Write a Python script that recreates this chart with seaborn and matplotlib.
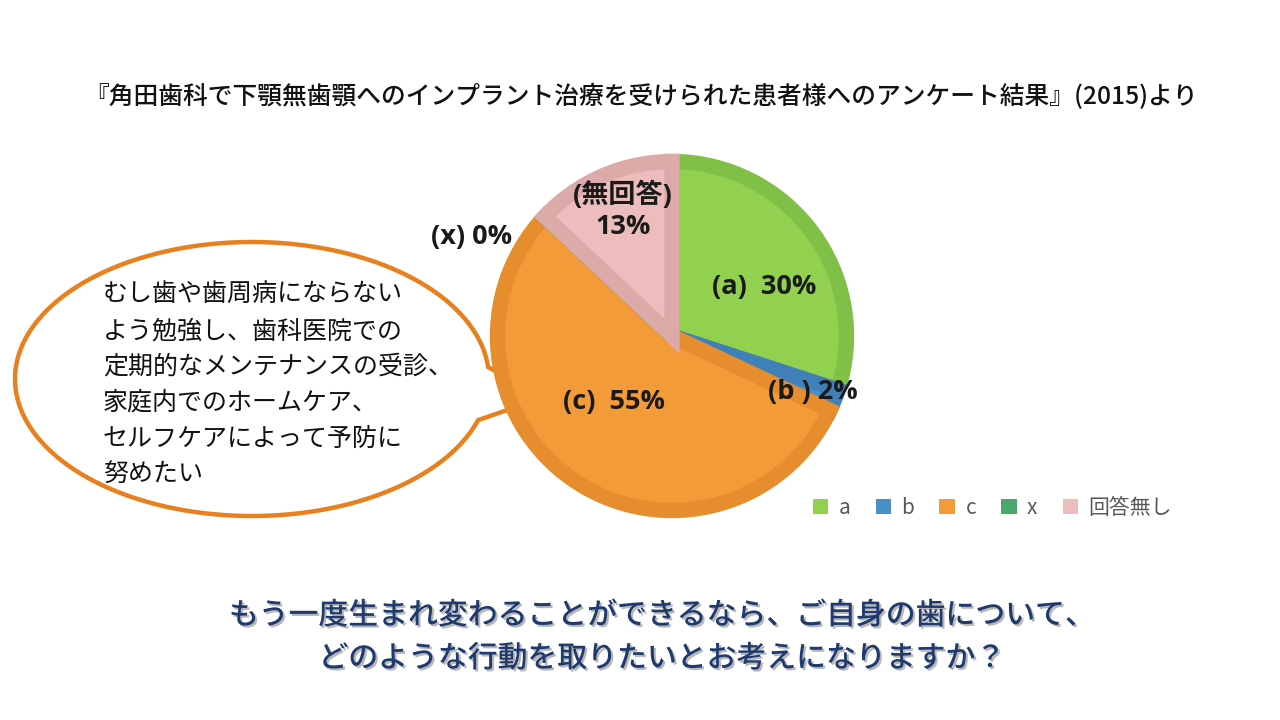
import numpy as np
import matplotlib
matplotlib.use("Agg")
import matplotlib.pyplot as plt
import matplotlib.patheffects as pe
from matplotlib.patches import Polygon, Patch
import seaborn as sns

sns.set_theme(style="white")
plt.rcParams['font.family'] = ['Noto Sans CJK JP', 'DejaVu Sans']

# データ
categories = ['a', 'b', 'c', 'x', '回答無し']
shares = [30, 2, 55, 0, 13]
slice_labels = ['(a)  30%', '(b ) 2%', '(c)  55%', '(x) 0%', '(無回答)\n13%']
fill_colors = ['#92d050', '#4a90c8', '#f29b38', '#4aa86a', '#ecbdbc']
edge_colors = ['#80c046', '#3f80b8', '#e68d2e', '#3e955b', '#dcaaa9']

title = '『角田歯科で下顎無歯顎へのインプラント治療を受けられた患者様へのアンケート結果』(2015)より'
bubble_lines = ['むし歯や歯周病にならない',
                'よう勉強し、歯科医院での',
                '定期的なメンテナンスの受診、',
                '家庭内でのホームケア、',
                'セルフケアによって予防に',
                '努めたい']
question = 'もう一度生まれ変わることができるなら、ご自身の歯について、\nどのような行動を取りたいとお考えになりますか？'

W, H = 1280, 720
fig = plt.figure(figsize=(12.8, 7.2), dpi=100)
bg = fig.add_axes([0, 0, 1, 1])
bg.set_xlim(0, W)
bg.set_ylim(H, 0)
bg.axis('off')

bg.text(641, 97, title, ha='center', va='center', fontsize=17.8,
        fontweight='medium', color='#111111')

# 吹き出し
cx, cy, ra, rb = 252, 379, 237, 137
t = np.linspace(0.305, 2 * np.pi - 0.088, 200)
pts = np.column_stack([cx + ra * np.cos(t), cy + rb * np.sin(t)])
pts = np.vstack([pts, [[542, 398]]])
bg.add_patch(Polygon(pts, closed=True, facecolor='white',
                     edgecolor='#e8801e', linewidth=3.2, zorder=3))
for i, line in enumerate(bubble_lines):
    bg.text(103, 295 + i * 36, line, ha='left', va='center', fontsize=18,
            color='#111111', zorder=4)

# 円グラフ
pcx, pcy, pr = 672, 336, 178
pie_ax = fig.add_axes([(pcx - pr) / W, (H - pcy - pr) / H, 2 * pr / W, 2 * pr / H])
wedges, _ = pie_ax.pie(shares, colors=fill_colors, startangle=90,
                       counterclock=False, radius=1.0,
                       wedgeprops=dict(linewidth=11))
for w, ec in zip(wedges, edge_colors):
    w.set_edgecolor(ec)
    w.set_clip_path(w)
pie_ax.set_xlim(-1.02, 1.02)
pie_ax.set_ylim(-1.02, 1.02)
pie_ax.set_aspect('equal')

label_pos = [(0.53, 0.28), (0.81, -0.32), (-0.33, -0.38), (-1.15, 0.57), (-0.28, 0.72)]
for (lx, ly), lab in zip(label_pos, slice_labels):
    pie_ax.text(lx, ly, lab, ha='center', va='center', fontsize=19.5,
                fontweight='bold', color='#1a1a1a', linespacing=1.25, clip_on=False,
                family=['Open Sans', 'Noto Sans CJK JP'])

handles = [Patch(facecolor=c, edgecolor='none') for c in fill_colors]
fig.legend(handles, categories, ncol=5, frameon=False,
           loc='center left', bbox_to_anchor=(794 / W, 1 - 508 / H),
           fontsize=15, handlelength=0.75, handleheight=0.75,
           handletextpad=0.5, columnspacing=1.2, labelcolor='#595959')

bg.text(662, 637, question, ha='center', va='center', fontsize=21.5,
        fontweight='medium', color='#1f3a6e', linespacing=1.5,
        path_effects=[pe.withSimplePatchShadow(offset=(1.5, -1.5),
                                               shadow_rgbFace='#8a8a8a', alpha=0.6)])

fig.savefig('out.png', dpi=100)
